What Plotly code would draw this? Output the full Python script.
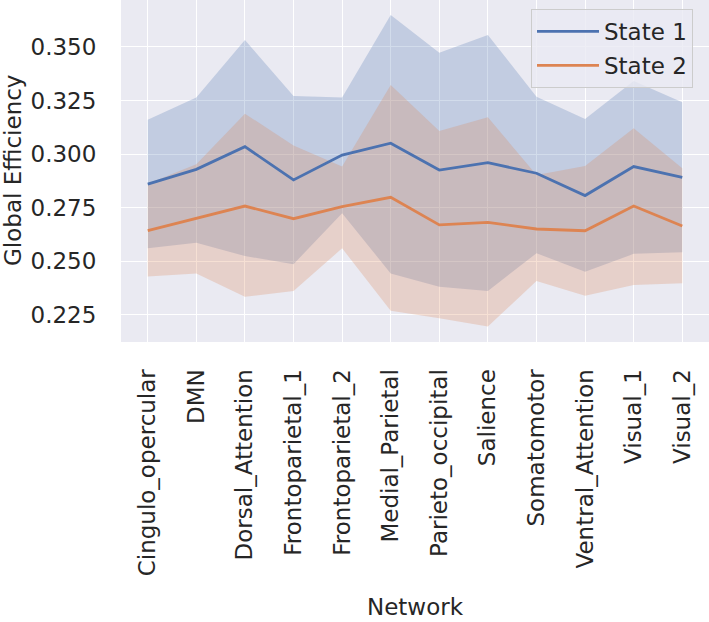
import plotly.graph_objects as go

networks = ["Cingulo_opercular", "DMN", "Dorsal_Attention", "Frontoparietal_1",
            "Frontoparietal_2", "Medial_Parietal", "Parieto_occipital", "Salience",
            "Somatomotor", "Ventral_Attention", "Visual_1", "Visual_2"]

s1_mean = [0.2860, 0.2929, 0.3035, 0.2880, 0.2996, 0.3051, 0.2926, 0.2960, 0.2911, 0.2807, 0.2942, 0.2892]
s1_upper = [0.3160, 0.3264, 0.3533, 0.3271, 0.3264, 0.3649, 0.3473, 0.3556, 0.3268, 0.3164, 0.3341, 0.3242]
s1_lower = [0.2561, 0.2587, 0.2525, 0.2487, 0.2724, 0.2444, 0.2382, 0.2362, 0.2538, 0.2452, 0.2535, 0.2542]

s2_mean = [0.2643, 0.2701, 0.2758, 0.2699, 0.2755, 0.2799, 0.2670, 0.2682, 0.2651, 0.2643, 0.2758, 0.2665]
s2_upper = [0.2862, 0.2953, 0.3189, 0.3040, 0.2942, 0.3323, 0.3108, 0.3172, 0.2903, 0.2945, 0.3121, 0.2934]
s2_lower = [0.2429, 0.2444, 0.2335, 0.2362, 0.2561, 0.2270, 0.2235, 0.2196, 0.2409, 0.2340, 0.2390, 0.2398]

yticks = [0.225, 0.250, 0.275, 0.300, 0.325, 0.350]
ytick_labels = ["0.225", "0.250", "0.275", "0.300", "0.325", "0.350"]

BLUE = "#4c72b0"
ORANGE = "#dd8452"
FONT = "DejaVu Sans"
TXT = "#262626"
FS = 23

xs = list(range(len(networks)))

fig = go.Figure()
for up, lo, col in [(s1_upper, s1_lower, "rgba(76,114,176,0.25)"),
                    (s2_upper, s2_lower, "rgba(221,132,82,0.25)")]:
    fig.add_trace(go.Scatter(x=xs, y=up, mode="lines", line=dict(width=0),
                             showlegend=False, hoverinfo="skip"))
    fig.add_trace(go.Scatter(x=xs, y=lo, mode="lines", line=dict(width=0),
                             fill="tonexty", fillcolor=col,
                             showlegend=False, hoverinfo="skip"))

fig.add_trace(go.Scatter(x=xs, y=s1_mean, mode="lines", name="State 1",
                         line=dict(color=BLUE, width=2.8), legendgroup="a"))
fig.add_trace(go.Scatter(x=xs, y=s2_mean, mode="lines", name="State 2",
                         line=dict(color=ORANGE, width=2.8), legendgroup="b"))

fig.update_layout(
    width=709, height=622,
    margin=dict(l=121, r=0, t=0, b=280, autoexpand=False),
    paper_bgcolor="white",
    plot_bgcolor="#eaeaf2",
    font=dict(family=FONT, size=FS, color=TXT),
    legend=dict(x=(693 - 121) / 588, y=1 - 9 / 342, xanchor="right", yanchor="top",
                bgcolor="rgba(234,234,242,0.8)", bordercolor="#cccccc",
                borderwidth=1, font=dict(size=FS, color=TXT),
                itemwidth=62,
                tracegroupgap=1, traceorder="grouped"),
    xaxis=dict(
        range=[-0.55, 11.55], automargin=False,
        tickmode="array", tickvals=xs, ticktext=networks,
        tickangle=-90,
        showgrid=True, gridcolor="white", gridwidth=1.3,
        zeroline=False, showline=False,
        ticks="outside", ticklen=17, tickcolor="rgba(0,0,0,0)",
        tickfont=dict(size=FS, color=TXT),
    ),
    yaxis=dict(
        range=[0.2124, 0.3719], automargin=False,
        tickmode="array", tickvals=yticks, ticktext=ytick_labels,
        showgrid=True, gridcolor="white", gridwidth=1.3,
        zeroline=False, showline=False,
        ticks="outside", ticklen=19, tickcolor="rgba(0,0,0,0)",
        tickfont=dict(size=FS, color=TXT),
    ),
    annotations=[
        dict(text="Network", xref="paper", yref="paper", x=0.5, y=-(607 - 342) / 342,
             xanchor="center", yanchor="middle", showarrow=False,
             font=dict(size=FS, color=TXT)),
        dict(text="Global Efficiency", xref="paper", yref="paper",
             x=-(121 - 13) / 588, y=0.5, textangle=-90,
             xanchor="center", yanchor="middle", showarrow=False,
             font=dict(size=FS, color=TXT)),
    ],
)

fig.write_html("out.html", config={"displayModeBar": False},
               post_script="document.body.style.margin='0';document.body.style.overflow='hidden';")
